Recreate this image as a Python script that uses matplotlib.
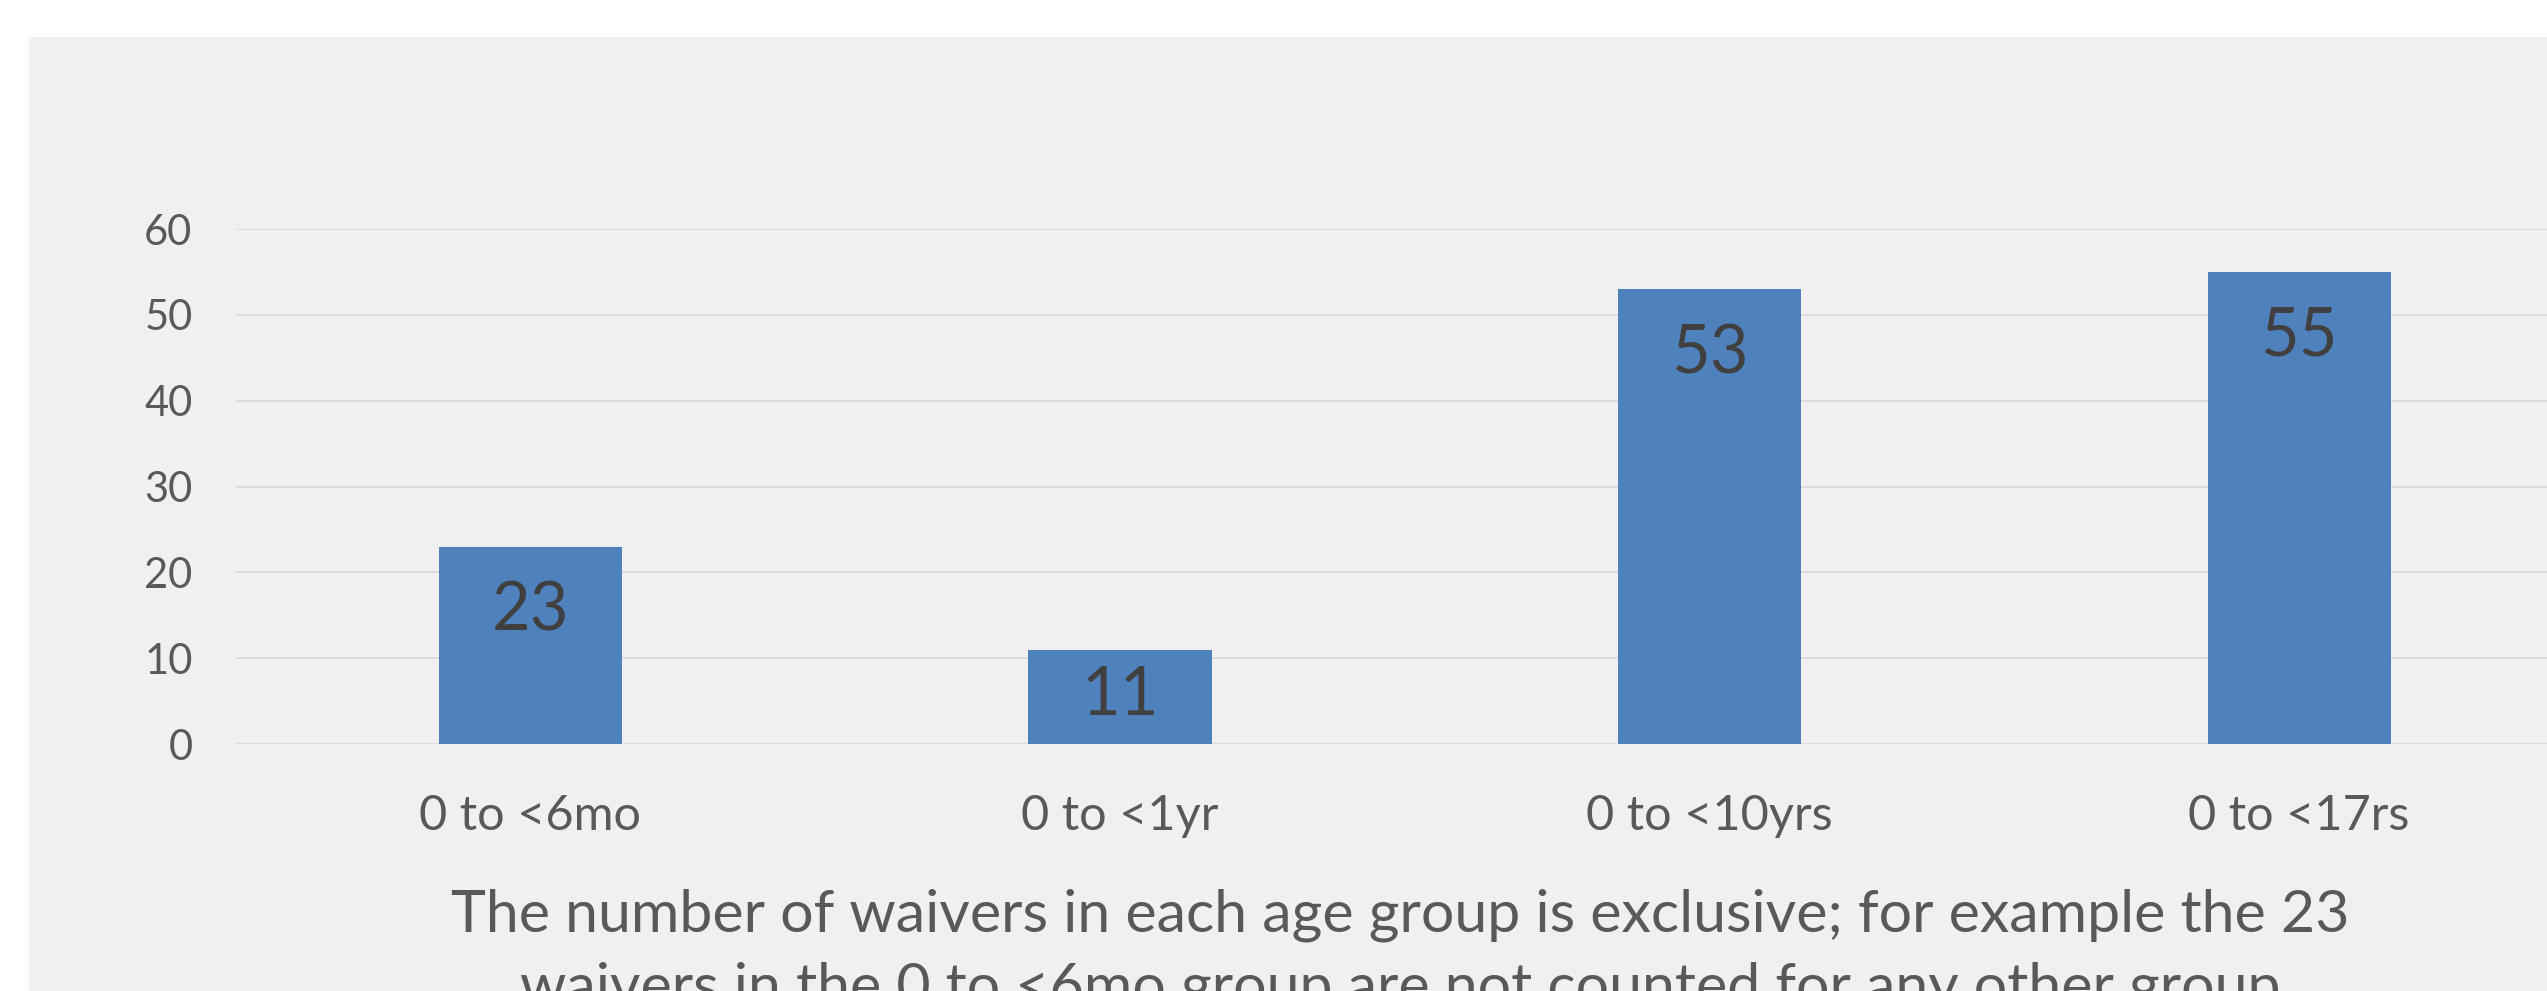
import matplotlib.pyplot as plt
from matplotlib.patches import Rectangle

categories = ["0 to <6mo", "0 to <1yr", "0 to <10yrs", "0 to <17rs"]
waivers = [23, 11, 53, 55]
y_ticks = [0, 10, 20, 30, 40, 50, 60]
note = ("The number of waivers in each age group is exclusive; for example the 23\n"
        "waivers in the 0 to <6mo group are not counted for any other group")

BAR = "#4F81BD"
GRID = "#D9D9D9"
TEXT = "#595959"
LABEL = "#404040"

plt.rcParams["font.family"] = ["Lato", "DejaVu Sans"]

W, H = 2547, 991
fig = plt.figure(figsize=(W / 100, H / 100), dpi=100, facecolor="white")
fig.patches.append(Rectangle((29 / W, 0), 1, (H - 37) / H, transform=fig.transFigure,
                             facecolor="#F0F0F0", edgecolor="none", zorder=-5))

# plot area runs past the right edge, like the cropped original
ax = fig.add_axes([235.5 / W, 247 / H, 2358.5 / W, 515 / H])
ax.set_facecolor("none")

x = range(len(categories))
ax.bar(x, waivers, width=0.311, color=BAR, zorder=2)
ax.set_xlim(-0.5, len(categories) - 0.5)
ax.set_ylim(0, 60)

# inside-end labels; short bars push the label down until it sits on the base
px_per_unit = ax.bbox.height / 60
for i, v in zip(x, waivers):
    drop_px = min(60, v * px_per_unit - 53)
    ax.annotate(str(v), xy=(i, v), xytext=(0, -(drop_px + 24) * 0.72),
                textcoords="offset points", ha="center", va="baseline",
                fontsize=48, color=LABEL, zorder=3)

ax.set_yticks(y_ticks)
ax.set_xticks(list(x), categories)
ax.tick_params(axis="y", length=0, pad=31, labelsize=30, labelcolor=TEXT)
ax.tick_params(axis="x", length=0, pad=36, labelsize=35, labelcolor=TEXT)
ax.yaxis.grid(True, color=GRID, linewidth=1.2, zorder=1)
for side in ax.spines.values():
    side.set_visible(False)

fig.text(1400 / W, 1 - 889 / H, note, ha="center", va="top", fontsize=42.5,
         color=TEXT, linespacing=1.45)

fig.savefig("out.png", dpi=100, facecolor="white")
plt.close(fig)
